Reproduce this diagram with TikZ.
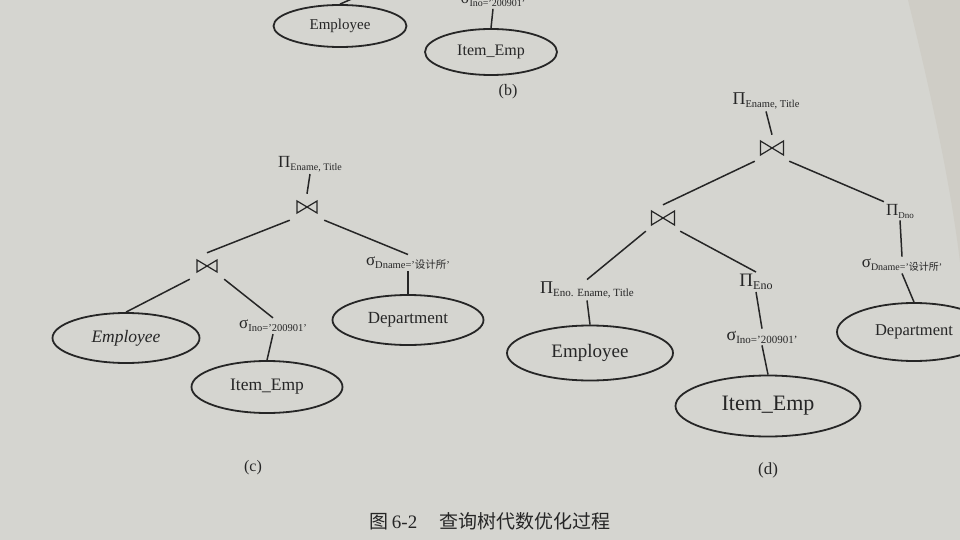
\documentclass[tikz,border=0pt]{standalone}
\usepackage{fontspec}
\setmainfont{Liberation Serif}
\newfontfamily\cjk{Noto Sans CJK SC}
\usetikzlibrary{shapes.geometric}

\definecolor{paper}{RGB}{213,213,208}
\definecolor{paperedge}{RGB}{207,205,198}
\definecolor{ink}{RGB}{38,38,38}

\newcommand\fsz[1]{\fontsize{#1}{#1}\selectfont}
% projection / selection operators: symbol size, subscript size, subscript
\newcommand\projop[3]{{\fsz{#1}Π}\raisebox{-3pt}{\fsz{#2}#3}}
\newcommand\selop[3]{{\fsz{#1}σ}\raisebox{-3pt}{\fsz{#2}#3}}

\tikzset{
  rel/.style={draw=ink, line width=1.8pt, ellipse, inner sep=0pt, text=ink},
  lbl/.style={inner sep=2pt, text=ink},
  edge/.style={draw=ink, line width=1.5pt},
  bowtie/.style 2 args={minimum width=34pt, minimum height=26pt, inner sep=0pt,
    path picture={\draw[ink, line width=1.2pt, line join=miter]
      ([shift={(-#1,#2)}]path picture bounding box.center) --
      ([shift={(-#1,-#2)}]path picture bounding box.center) --
      ([shift={(#1,#2)}]path picture bounding box.center) --
      ([shift={(#1,-#2)}]path picture bounding box.center) -- cycle;}},
  tag/.style={inner sep=0pt, text=ink, font=\fsz{16}}
}

\begin{document}
\begin{tikzpicture}[x=1pt, y=-1pt]
\useasboundingbox (0,0) rectangle (960,540);
\clip (0,0) rectangle (960,540);
% page
\fill[paper] (0,0) rectangle (960,540);
\fill[paperedge] (908,0) .. controls (930,90) and (950,180) .. (960,262) -- (960,0) -- cycle;

% ---- tree (b), lower part ----
\node[rel, minimum width=133, minimum height=42, font=\fsz{15}] (bemp) at (340,26) {Employee};
\coordinate (btop) at (354,-2);
\draw[edge] (bemp.north) -- (btop);
\node[lbl] (bsel) at (493,1) {\selop{16}{10}{Ino='200901'}};
\node[rel, minimum width=132, minimum height=46, font=\fsz{16}] (bitem) at (491,52) {Item\_Emp};
\draw[edge] (bsel.south) -- (bitem.north);
\node[tag] (bcap) at (508,92) {(b)};

% ---- tree (c) ----
\node[lbl] (cp) at (310,164) {\projop{17}{10}{Ename, Title}};
\node[bowtie={10pt}{6pt}] (cj1) at (307,207) {};
\node[bowtie={10pt}{6pt}] (cj2) at (207,266) {};
\node[lbl] (cs2) at (408,263) {\selop{17}{10.5}{Dname='{\cjk 设计所}'}};
\node[rel, minimum width=151, minimum height=50, font=\fsz{17}] (cdep) at (408,320) {Department};
\node[rel, minimum width=147, minimum height=50, font=\fsz{17.5}\itshape] (cemp) at (126,338) {Employee};
\node[lbl] (cs1) at (273,326) {\selop{17}{10.5}{Ino='200901'}};
\node[rel, minimum width=151, minimum height=52, font=\fsz{17.5}] (citem) at (267,387) {Item\_Emp};
\node[tag] (ccap) at (253,468) {(c)};

\draw[edge] (cp.south) -- (cj1.north);
\draw[edge] (cj1.south west) -- (cj2.north);
\draw[edge] (cj1.south east) -- (cs2.north);
\draw[edge] (cj2.south west) -- (cemp.north);
\draw[edge] (cj2.south east) -- (cs1.north);
\draw[edge] (cs1.south) -- (citem.north);
\draw[edge] (cs2.south) -- (cdep.north);

% ---- tree (d) ----
\node[lbl] (dp) at (766,101) {\projop{18}{10.5}{Ename, Title}};
\node[bowtie={11.5pt}{7pt}] (dj1) at (772,148) {};
\node[bowtie={11.5pt}{7pt}] (dj2) at (663,218) {};
\node[lbl] (dpd) at (900,211) {\projop{17}{9}{Dno}};
\node[lbl] (ds2) at (902,265) {\selop{17}{10}{Dname='{\cjk 设计所}'}};
\node[rel, minimum width=154, minimum height=58, font=\fsz{16.5}] (ddep) at (914,332) {Department};
\node[lbl] (dpe) at (587,290) {\projop{18}{11}{Eno. Ename, Title}};
\node[lbl] (dpn) at (756,282) {\projop{19}{12}{Eno}};
\node[rel, minimum width=166, minimum height=55, font=\fsz{19}] (demp) at (590,353) {Employee};
\node[lbl] (ds1) at (762,337) {\selop{18}{11}{Ino='200901'}};
\node[rel, minimum width=185, minimum height=61, font=\fsz{22}] (ditem) at (768,406) {Item\_Emp};
\node[tag, font=\fsz{17}] (dcap) at (768,470) {(d)};

\draw[edge] (dp.south) -- (dj1.north);
\draw[edge] (dj1.south west) -- (dj2.north);
\draw[edge] (dj1.south east) -- (dpd.north west);
\draw[edge] (dpd.south) -- (ds2.north);
\draw[edge] (ds2.south) -- (ddep.north);
\draw[edge] (dj2.south west) -- (dpe.north);
\draw[edge] (dj2.south east) -- (dpn.north);
\draw[edge] (dpe.south) -- (demp.north);
\draw[edge] (dpn.south) -- (ds1.north);
\draw[edge] (ds1.south) -- (ditem.north);

% ---- caption ----
\node[text=ink, inner sep=0pt, font=\fsz{19}] (fig) at (490,521)
  {{\cjk 图}\,6-2\hspace{22pt}{\cjk 查询树代数优化过程}};
\end{tikzpicture}
\end{document}
